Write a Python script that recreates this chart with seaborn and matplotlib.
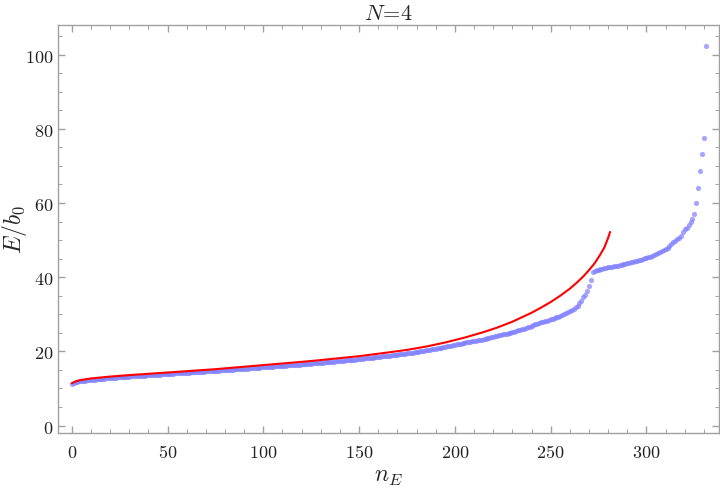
import numpy as np
import pandas as pd
import matplotlib
matplotlib.use("Agg")
import matplotlib.pyplot as plt
from matplotlib.ticker import MultipleLocator, FuncFormatter
import seaborn as sns

sns.set_style("ticks")
plt.rcParams["mathtext.fontset"] = "cm"
plt.rcParams["font.family"] = ["DejaVu Serif"]

# numerical levels (blue dots), one per level index n_E = 0, 1, 2, ...
blue_E = [
    11.2, 11.55, 11.7, 11.8, 11.88, 11.95, 12.02, 12.1, 12.17, 12.24,
    12.3, 12.35, 12.4, 12.46, 12.51, 12.55, 12.6, 12.65, 12.7, 12.75,
    12.8, 12.84, 12.88, 12.92, 12.97, 13.01, 13.04, 13.08, 13.12, 13.16,
    13.2, 13.23, 13.27, 13.3, 13.34, 13.37, 13.41, 13.44, 13.48, 13.51,
    13.55, 13.58, 13.62, 13.65, 13.69, 13.72, 13.76, 13.79, 13.83, 13.86,
    13.9, 13.93, 13.97, 14.0, 14.04, 14.07, 14.11, 14.14, 14.18, 14.21,
    14.25, 14.28, 14.32, 14.35, 14.39, 14.42, 14.46, 14.49, 14.53, 14.56,
    14.6, 14.63, 14.67, 14.7, 14.74, 14.77, 14.81, 14.84, 14.88, 14.91,
    14.95, 14.98, 15.02, 15.05, 15.09, 15.12, 15.16, 15.19, 15.23, 15.26,
    15.3, 15.34, 15.38, 15.42, 15.46, 15.5, 15.54, 15.58, 15.62, 15.66,
    15.7, 15.74, 15.78, 15.82, 15.86, 15.9, 15.94, 15.98, 16.02, 16.06,
    16.1, 16.14, 16.18, 16.22, 16.26, 16.3, 16.34, 16.38, 16.42, 16.46,
    16.5, 16.54, 16.59, 16.63, 16.68, 16.72, 16.77, 16.81, 16.86, 16.9,
    16.95, 16.99, 17.04, 17.08, 17.13, 17.17, 17.22, 17.26, 17.31, 17.35,
    17.4, 17.45, 17.5, 17.55, 17.6, 17.65, 17.7, 17.75, 17.8, 17.85,
    17.9, 17.96, 18.02, 18.08, 18.14, 18.2, 18.26, 18.32, 18.38, 18.44,
    18.5, 18.56, 18.62, 18.68, 18.74, 18.8, 18.86, 18.92, 18.98, 19.04,
    19.1, 19.17, 19.24, 19.31, 19.38, 19.45, 19.52, 19.59, 19.66, 19.73,
    19.8, 19.88, 19.97, 20.06, 20.15, 20.24, 20.33, 20.42, 20.51, 20.6,
    20.7, 20.81, 20.92, 21.03, 21.14, 21.25, 21.36, 21.47, 21.58, 21.69,
    21.8, 21.9, 22.0, 22.1, 22.2, 22.3, 22.4, 22.5, 22.6, 22.7,
    22.8, 22.9, 23.0, 23.05, 23.2, 23.3, 23.45, 23.5, 23.6, 23.8,
    23.95, 24.05, 24.2, 24.3, 24.45, 24.55, 24.7, 24.8, 24.95, 25.05,
    25.2, 25.35, 25.5, 25.65, 25.8, 25.95, 26.1, 26.25, 26.45, 26.65,
    26.95, 27.15, 27.35, 27.5, 27.7, 27.85, 28.0, 28.15, 28.3, 28.5,
    28.7, 28.85, 29.0, 29.2, 29.4, 29.6, 29.8, 30.0, 30.25, 30.55,
    30.9, 31.2, 31.55, 31.9, 32.3, 33.0, 33.7, 34.6, 35.2, 36.2,
    37.5, 39.3,
    41.5, 41.75, 41.9, 42.05, 42.2, 42.3, 42.42, 42.52,
    42.62, 42.72, 42.82, 42.92, 43.02, 43.12, 43.22, 43.34, 43.46, 43.58,
    43.7, 43.84, 43.98, 44.12, 44.26, 44.4, 44.56, 44.72, 44.88, 45.04,
    45.2, 45.38, 45.56, 45.76, 45.96, 46.18, 46.42, 46.68, 46.96, 47.25,
    47.6, 48.0, 48.45, 48.95, 49.45, 49.85, 50.2, 50.5, 51.2, 52.2,
    53.0, 53.2, 54.0, 54.8, 55.7, 57.0, 60.0, 64.0, 68.5, 73.2, 77.5, 102.4,
]

# analytic estimate (red curve)
red_n = [0, 2, 5, 10, 20, 30, 50, 75, 100, 125, 150, 165, 175, 185, 195,
         205, 215, 222, 230, 235, 240, 245, 250, 255, 260, 264, 267, 270,
         273, 276, 278, 280, 281]
red_E = [11.4, 11.9, 12.3, 12.7, 13.2, 13.6, 14.3, 15.2, 16.3, 17.4, 18.7,
         19.7, 20.4, 21.3, 22.4, 23.7, 25.2, 26.4, 28.0, 29.2, 30.4, 31.8,
         33.3, 35.0, 36.9, 38.7, 40.2, 41.9, 43.8, 46.2, 48.0, 50.6, 52.2]

dots = pd.DataFrame({"n": np.arange(len(blue_E)), "E": blue_E})
curve = pd.DataFrame({"n": red_n, "E": red_E})

fig = plt.figure(figsize=(7.2, 4.89), dpi=100)
ax = fig.add_axes([0.081, 0.1125, 0.918, 0.8345])

sns.scatterplot(data=dots, x="n", y="E", ax=ax, color="#8080ff", alpha=0.7,
                s=14, linewidth=0, zorder=2)
sns.lineplot(data=curve, x="n", y="E", ax=ax, color="red", linewidth=1.5,
             zorder=3)

ax.set_xlim(-7, 338)
ax.set_ylim(-2, 108)
ax.xaxis.set_major_locator(MultipleLocator(50))
ax.xaxis.set_minor_locator(MultipleLocator(10))
ax.yaxis.set_major_locator(MultipleLocator(20))
ax.yaxis.set_minor_locator(MultipleLocator(5))
fmt = FuncFormatter(lambda v, p: f"${v:g}$")
ax.xaxis.set_major_formatter(fmt)
ax.yaxis.set_major_formatter(fmt)

frame = "#a0a0a0"
for sp in ax.spines.values():
    sp.set_visible(True)
    sp.set_color(frame)
    sp.set_linewidth(1.0)
ax.tick_params(which="both", direction="in", top=True, right=True,
               color=frame, labelsize=13, labelcolor="#222222")
ax.tick_params(which="major", length=5, width=1.0)
ax.tick_params(which="minor", length=3, width=0.7)
ax.tick_params(axis="x", which="major", pad=7)

ax.set_xlabel(r"$n_E$", fontsize=17, va="center")
ax.set_ylabel(r"$E/b_0$", fontsize=17, va="center")
ax.xaxis.set_label_coords(0.5, -0.103)
ax.yaxis.set_label_coords(-0.066, 0.5)
ax.set_title(r"$N\!=\!4$", fontsize=16, pad=4)

fig.savefig("out.png", dpi=100)
